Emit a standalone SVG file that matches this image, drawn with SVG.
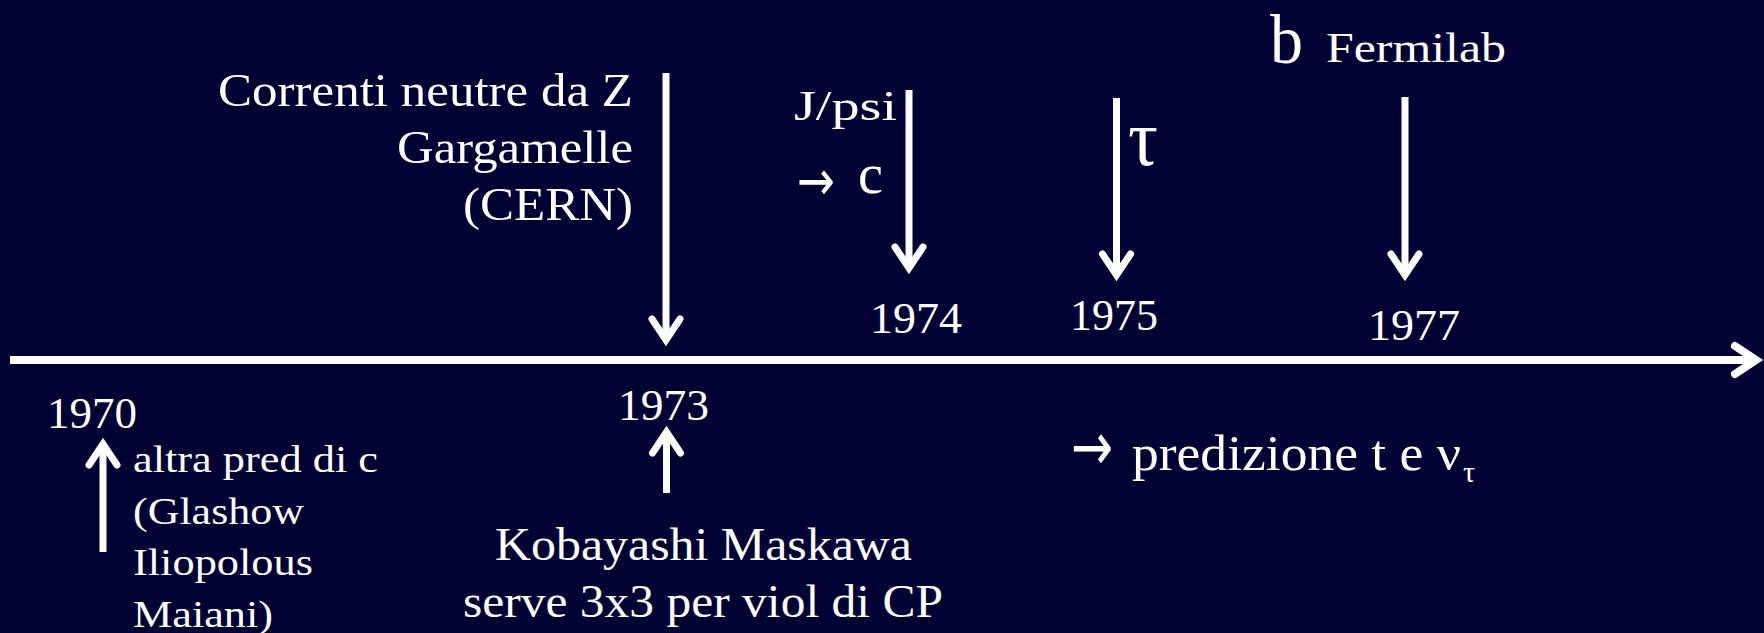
<svg xmlns="http://www.w3.org/2000/svg" width="1764" height="633" viewBox="0 0 1764 633">
<defs>
<style>
text { font-family: "Liberation Serif", "Times New Roman", serif; fill: #ffffff; }
.yr { font-size: 45px; }
.sym { font-family: "DejaVu Sans", sans-serif; }
.arrow { stroke: #ffffff; stroke-width: 7; fill: none; marker-end: url(#head); }
.axis { stroke: #ffffff; stroke-width: 8; fill: none; marker-end: url(#axhead); }
</style>
<marker id="head" markerUnits="userSpaceOnUse" orient="auto" refX="0" refY="0" markerWidth="1" markerHeight="1" overflow="visible">
<path d="M-21,-14 L0,0 L-21,14" fill="none" stroke="#ffffff" stroke-width="7" stroke-linecap="round" stroke-linejoin="miter"/>
</marker>
<marker id="axhead" markerUnits="userSpaceOnUse" orient="auto" refX="0" refY="0" markerWidth="1" markerHeight="1" overflow="visible">
<path d="M-21,-14 L0,0 L-21,14" fill="none" stroke="#ffffff" stroke-width="8" stroke-linecap="round" stroke-linejoin="miter"/>
</marker>
</defs>
<rect x="0" y="0" width="1764" height="633" fill="#000033"/>

<g id="connectors">
<line class="axis" x1="10" y1="360" x2="1756" y2="360"/>
<line class="arrow" x1="666" y1="73" x2="666" y2="340"/>
<line class="arrow" x1="909" y1="90" x2="909" y2="268"/>
<line class="arrow" x1="1116.5" y1="98" x2="1116.5" y2="275"/>
<line class="arrow" x1="1405" y1="97" x2="1405" y2="275"/>
<line class="arrow" x1="103" y1="552" x2="103" y2="444"/>
<line class="arrow" x1="666.5" y1="493" x2="666.5" y2="432"/>
</g>

<g id="node-correnti">
<text x="218" y="106" font-size="46" textLength="415" lengthAdjust="spacingAndGlyphs">Correnti neutre da Z</text>
<text x="397" y="163" font-size="46" textLength="236" lengthAdjust="spacingAndGlyphs">Gargamelle</text>
<text x="463" y="220" font-size="46" textLength="170" lengthAdjust="spacingAndGlyphs">(CERN)</text>
</g>

<g id="node-jpsi">
<text x="794" y="120" font-size="42" textLength="103" lengthAdjust="spacingAndGlyphs">J/psi</text>
<text class="sym" x="797" y="200" font-size="56" textLength="38" lengthAdjust="spacingAndGlyphs">→</text>
<text x="858" y="193" font-size="56" textLength="25" lengthAdjust="spacingAndGlyphs">c</text>
</g>

<g id="node-tau">
<text x="1128" y="165" font-size="80" textLength="30" lengthAdjust="spacingAndGlyphs">τ</text>
</g>

<g id="node-b">
<text x="1270" y="63" font-size="70" textLength="33" lengthAdjust="spacingAndGlyphs">b</text>
<text x="1326" y="62" font-size="42" textLength="180" lengthAdjust="spacingAndGlyphs">Fermilab</text>
</g>

<g id="node-years">
<text class="yr" x="47" y="428" textLength="90" lengthAdjust="spacingAndGlyphs">1970</text>
<text class="yr" x="618" y="420" textLength="91" lengthAdjust="spacingAndGlyphs">1973</text>
<text class="yr" x="870" y="333" textLength="92" lengthAdjust="spacingAndGlyphs">1974</text>
<text class="yr" x="1070" y="330" textLength="88" lengthAdjust="spacingAndGlyphs">1975</text>
<text class="yr" x="1368" y="340" textLength="92" lengthAdjust="spacingAndGlyphs">1977</text>
</g>

<g id="node-gim">
<text x="133" y="472" font-size="38" textLength="245" lengthAdjust="spacingAndGlyphs">altra pred di c</text>
<text x="133" y="524" font-size="38" textLength="171" lengthAdjust="spacingAndGlyphs">(Glashow</text>
<text x="133" y="575" font-size="38" textLength="180" lengthAdjust="spacingAndGlyphs">Iliopolous</text>
<text x="133" y="627" font-size="38" textLength="140" lengthAdjust="spacingAndGlyphs">Maiani)</text>
</g>

<g id="node-km">
<text x="495" y="560" font-size="46" textLength="417" lengthAdjust="spacingAndGlyphs">Kobayashi Maskawa</text>
<text x="463" y="617" font-size="46" textLength="480" lengthAdjust="spacingAndGlyphs">serve 3x3 per viol di CP</text>
</g>

<g id="node-predizione">
<text class="sym" x="1071" y="470" font-size="68" textLength="42" lengthAdjust="spacingAndGlyphs">→</text>
<text x="1132" y="470" font-size="51" textLength="329" lengthAdjust="spacingAndGlyphs">predizione t e ν</text>
<text x="1463" y="482" font-size="30">τ</text>
</g>
</svg>
